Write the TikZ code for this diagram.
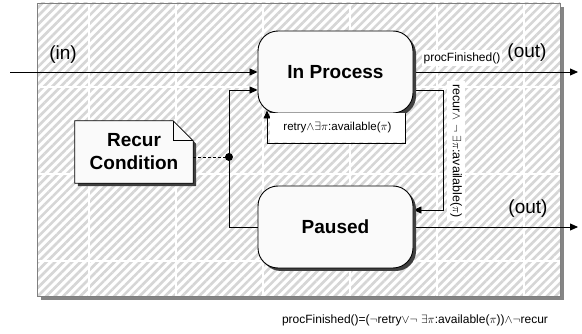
\documentclass[tikz,border=0pt]{standalone}
\usepackage{fontspec}
\setmainfont{Liberation Sans}
\usetikzlibrary{arrows.meta,patterns.meta,calc,shadows}
\pgfdeclarelayer{back}
\pgfdeclarelayer{edges}
\pgfsetlayers{back,edges,main}
\tikzset{
  state/.style={draw=black, line width=0.9pt, fill=black!2, rounded corners=20pt,
    minimum width=155pt, minimum height=82pt, inner sep=0pt,
    font=\fontsize{19}{21}\selectfont\bfseries,
    drop shadow={shadow xshift=3pt, shadow yshift=-3pt, fill=black!75, opacity=1}},
  notetext/.style={font=\fontsize{19}{23}\selectfont\bfseries, align=center,
    minimum width=118pt, minimum height=62pt, inner sep=0pt},
  lbl/.style={fill=white, inner sep=2pt, font=\fontsize{11.5}{13}\selectfont},
  big/.style={font=\fontsize{19}{21}\selectfont, inner sep=0pt},
  arr/.style={-{Triangle[length=8pt,width=7pt]}, line width=0.8pt},
  gridline/.style={white, line width=1.3pt}
}
\begin{document}
\begin{tikzpicture}[x=1pt,y=-1pt]
\useasboundingbox (0,0) rectangle (582,334);
% frame
\begin{pgfonlayer}{back}
  \fill[black!48] (41,7) rectangle (564,300);
  \fill[white] (37,3) rectangle (560,296);
  \fill[pattern={Lines[angle=45,distance=6pt,line width=2.6pt]}, pattern color=black!16]
    (37,3) rectangle (560,296);
  \foreach \gx in {89,176,263,350,437,524} \draw[gridline] (\gx,3) -- (\gx,296);
  \foreach \gy in {87,174,261} \draw[gridline] (37,\gy) -- (560,\gy);
  \draw[black!50, line width=0.8pt] (37,3) rectangle (560,296);
\end{pgfonlayer}
% states
\node[state] (inproc) at (335.5,72) {In Process};
\node[state] (paused) at (335.5,227) {Paused};
% note
\node[notetext] (note) at (134,152) {Recur\\Condition};
\begin{pgfonlayer}{edges}
  \fill[black!75] ($(note.north west)+(3,3)$) -- ($(note.north east)+(-17,3)$) -- ($(note.north east)+(3,23)$)
    -- ($(note.south east)+(3,3)$) -- ($(note.south west)+(3,3)$) -- cycle;
  \filldraw[fill=black!2, draw=black, line width=0.8pt] (note.north west) -- ($(note.north east)+(-20,0)$)
    -- ($(note.north east)+(0,20)$) -- (note.south east) -- (note.south west) -- cycle;
  \draw[line width=0.8pt] ($(note.north east)+(-20,0)$) |- ($(note.north east)+(0,20)$);
\end{pgfonlayer}
% coordinates
\coordinate (inL) at (10,72);
\coordinate (outA) at (578,72);
\coordinate (outB) at (578,227);
\coordinate (j) at (229,157);
\coordinate (inB) at ($(inproc.west)+(0,18)$);
\coordinate (rA) at ($(inproc.east)+(0,18)$);
\coordinate (rB) at ($(paused.east)+(0,-17)$);
\coordinate (lA) at (405,111);
\coordinate (lB) at (267,110.5);
% connectors
\begin{pgfonlayer}{edges}
  \draw[arr] (inL) -- (inproc.west);
  \draw[arr] (inproc.east) -- (outA);
  \draw[arr] (paused.east) -- (outB);
  \draw[arr] (paused.west) -| (inB -| j) -- (inB);
  \draw[arr] (rA) -- ++(30,0) |- (rB);
  \draw[arr] (lA) -- ++(0,32) -| (lB);
  \draw[dashed, dash pattern=on 3pt off 2pt, line width=0.8pt] (note.east |- j) -- (j);
  \fill (j) circle (4);
\end{pgfonlayer}
% labels
\node[big] (inlbl) at (63,55) {(in)};
\node[lbl, font=\fontsize{12}{14}\selectfont] (pf) at (462,58) {procFinished()};
\node[big] (out1) at (527,53) {(out)};
\node[big] (out2) at (528,209) {(out)};
\node[lbl, minimum width=135pt, minimum height=29pt, inner sep=0pt] (rt) at (337.5,128)
  {retry$\wedge\exists\pi$:available($\pi$)};
\node[lbl, rotate=-90, inner sep=3pt, font=\fontsize{12.5}{14}\selectfont] (rl) at (456,151) {recur$\wedge$ $\neg$ $\exists\pi$:available($\pi$)};
\node[font=\fontsize{12}{14}\selectfont] (formula) at (415,320)
  {procFinished()=($\neg$retry$\vee\neg$ $\exists\pi$:available($\pi$))$\wedge\neg$recur};
\end{tikzpicture}
\end{document}
